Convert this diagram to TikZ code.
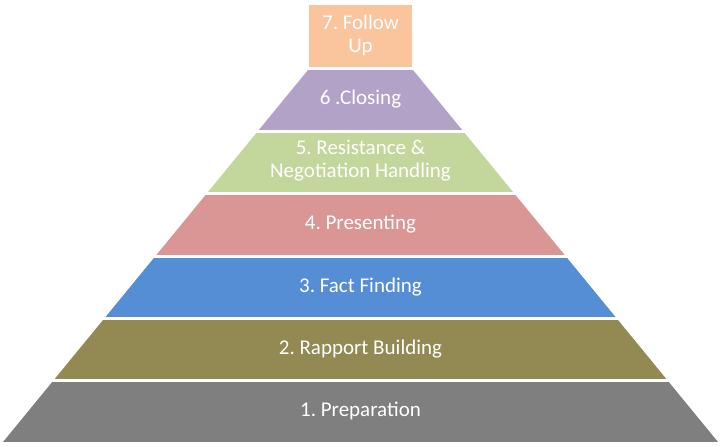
\documentclass[tikz,border=0pt]{standalone}
\usepackage{fontspec}
\setmainfont{Carlito}
\frenchspacing

\definecolor{prepgray}{HTML}{7F7F7F}
\definecolor{rapportolive}{HTML}{938953}
\definecolor{factblue}{HTML}{558ED5}
\definecolor{presentpink}{HTML}{D99694}
\definecolor{resistgreen}{HTML}{C3D69B}
\definecolor{closepurple}{HTML}{B3A2C7}
\definecolor{followpeach}{HTML}{FAC59C}

\tikzset{
    steptext/.style={text=white, font=\fontsize{21}{23}\selectfont, align=center, inner sep=0pt},
}

\begin{document}
\begin{tikzpicture}[x=1pt, y=-1pt]
        \useasboundingbox (0,0) rectangle (720,446);

        % pyramid layers
        \begin{scope}
            \clip (3,442) -- (718,442) -- (413,70) -- (308,70) -- cycle;
            \fill[prepgray] (0,382) rectangle (720,442);
            \fill[rapportolive] (0,320) rectangle (720,379);
            \fill[factblue] (0,258) rectangle (720,317);
            \fill[presentpink] (0,195) rectangle (720,255);
            \fill[resistgreen] (0,133) rectangle (720,192);
            \fill[closepurple] (0,70) rectangle (720,130);
        \end{scope}

        % top box
        \fill[followpeach] (309,5) rectangle (412,67);

        % step labels
        \node[steptext] (prep) at (360.5,411) {1. Preparation};
        \node[steptext] (rapport) at (360.5,349) {2. Rapport Building};
        \node[steptext] (fact) at (360.5,287) {3. Fact Finding};
        \node[steptext] (present) at (360.5,224) {4. Presenting};
        \node[steptext] (resist) at (360.5,161) {5. Resistance \&\\Negotiation Handling};
        \node[steptext] (closing) at (360.5,99) {6 .Closing};
        \node[steptext] (follow) at (360.5,35) {7. Follow\\Up};
    \end{tikzpicture}
\end{document}
